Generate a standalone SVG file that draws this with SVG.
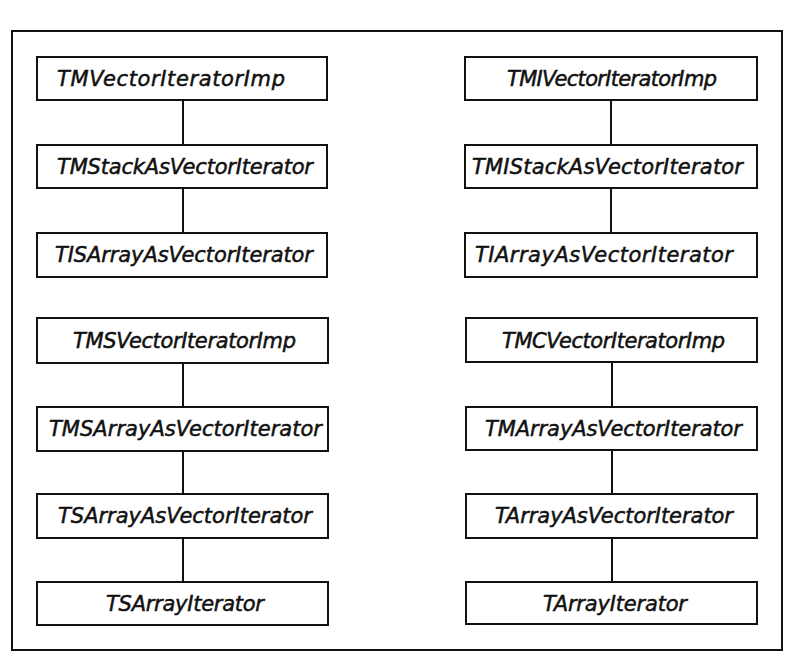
<svg xmlns="http://www.w3.org/2000/svg" width="800" height="663" viewBox="0 0 800 663">
<style>
.box{fill:#fff;stroke:#111;stroke-width:2}
.lbl{font-family:"DejaVu Sans",sans-serif;font-style:italic;font-size:21px;fill:#111;stroke:#111;stroke-width:0.5;lengthAdjust:spacing}
.con{stroke:#111;stroke-width:2;fill:none}
</style>
<rect x="0" y="0" width="800" height="663" fill="#fff"/>
<rect x="12" y="31" width="770" height="619" fill="none" stroke="#111" stroke-width="2"/>
<g id="connectors">
<line class="con" x1="183" y1="100" x2="183" y2="145"/>
<line class="con" x1="183" y1="188" x2="183" y2="233"/>
<line class="con" x1="611" y1="100" x2="611" y2="145"/>
<line class="con" x1="611" y1="188" x2="611" y2="233"/>
<line class="con" x1="183" y1="363" x2="183" y2="407"/>
<line class="con" x1="183" y1="451" x2="183" y2="494"/>
<line class="con" x1="183" y1="538" x2="183" y2="582"/>
<line class="con" x1="612" y1="362" x2="612" y2="407"/>
<line class="con" x1="612" y1="450" x2="612" y2="494"/>
<line class="con" x1="612" y1="538" x2="612" y2="582"/>
</g>
<g id="n1"><rect class="box" x="37" y="57" width="290" height="43"/><text class="lbl" x="57" y="86" textLength="228" lengthAdjust="spacing">TMVectorIteratorImp</text></g>
<g id="n2"><rect class="box" x="37" y="145" width="290" height="43"/><text class="lbl" x="57" y="174" textLength="256" lengthAdjust="spacing">TMStackAsVectorIterator</text></g>
<g id="n3"><rect class="box" x="37" y="233" width="290" height="44"/><text class="lbl" x="55" y="262" textLength="258" lengthAdjust="spacing">TISArrayAsVectorIterator</text></g>
<g id="n4"><rect class="box" x="465" y="57" width="292" height="43"/><text class="lbl" x="507" y="86" textLength="210" lengthAdjust="spacing">TMIVectorIteratorImp</text></g>
<g id="n5"><rect class="box" x="465" y="145" width="292" height="43"/><text class="lbl" x="472" y="174" textLength="271" lengthAdjust="spacing">TMIStackAsVectorIterator</text></g>
<g id="n6"><rect class="box" x="465" y="233" width="292" height="44"/><text class="lbl" x="475" y="262" textLength="258" lengthAdjust="spacing">TIArrayAsVectorIterator</text></g>
<g id="n7"><rect class="box" x="37" y="318" width="291" height="45"/><text class="lbl" x="73" y="348" textLength="223" lengthAdjust="spacing">TMSVectorIteratorImp</text></g>
<g id="n8"><rect class="box" x="37" y="407" width="291" height="44"/><text class="lbl" x="49" y="436" textLength="273" lengthAdjust="spacing">TMSArrayAsVectorIterator</text></g>
<g id="n9"><rect class="box" x="37" y="494" width="291" height="44"/><text class="lbl" x="58" y="523" textLength="254" lengthAdjust="spacing">TSArrayAsVectorIterator</text></g>
<g id="n10"><rect class="box" x="37" y="582" width="291" height="43"/><text class="lbl" x="106" y="611" textLength="158" lengthAdjust="spacing">TSArrayIterator</text></g>
<g id="n11"><rect class="box" x="466" y="318" width="291" height="44"/><text class="lbl" x="502" y="348" textLength="223" lengthAdjust="spacing">TMCVectorIteratorImp</text></g>
<g id="n12"><rect class="box" x="466" y="407" width="291" height="43"/><text class="lbl" x="485" y="436" textLength="257" lengthAdjust="spacing">TMArrayAsVectorIterator</text></g>
<g id="n13"><rect class="box" x="466" y="494" width="291" height="44"/><text class="lbl" x="495" y="523" textLength="238" lengthAdjust="spacing">TArrayAsVectorIterator</text></g>
<g id="n14"><rect class="box" x="466" y="582" width="291" height="42"/><text class="lbl" x="543" y="611" textLength="144" lengthAdjust="spacing">TArrayIterator</text></g>
</svg>
